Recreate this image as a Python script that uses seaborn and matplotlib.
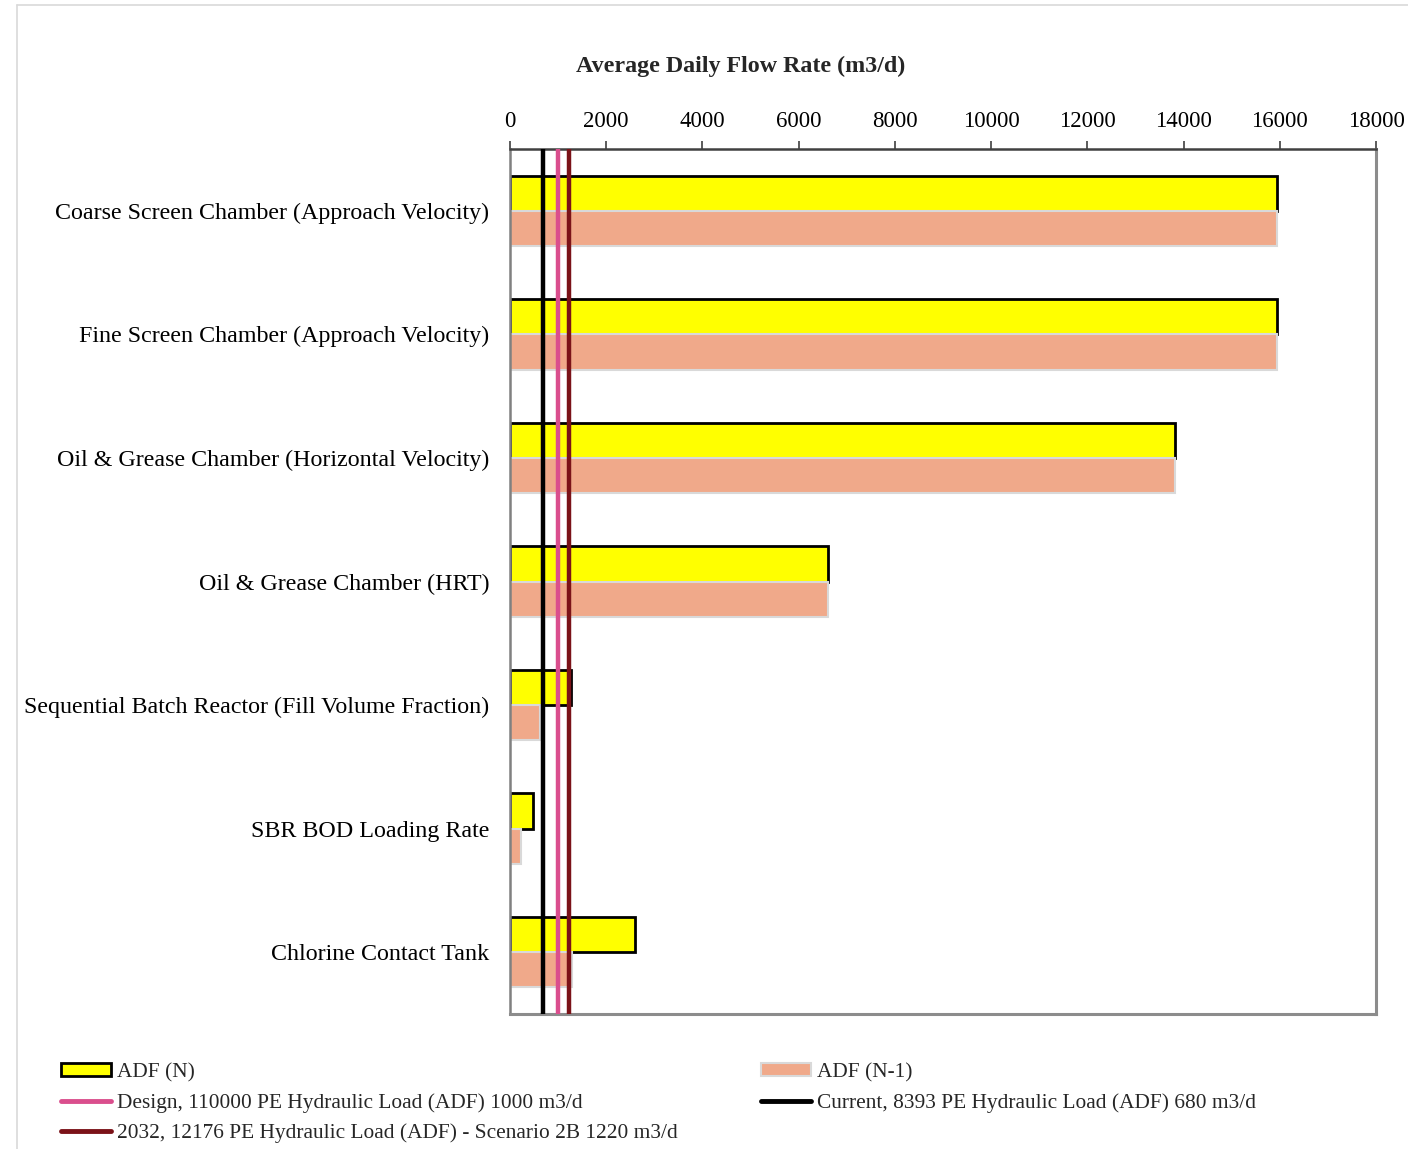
import matplotlib
matplotlib.use("Agg")
import matplotlib.pyplot as plt
from matplotlib.lines import Line2D
from matplotlib.patches import Patch
import seaborn as sns
import pandas as pd

# Process units and their average daily flow capacity (m3/d)
units = [
    "Coarse Screen Chamber (Approach Velocity)",
    "Fine Screen Chamber (Approach Velocity)",
    "Oil & Grease Chamber (Horizontal Velocity)",
    "Oil & Grease Chamber (HRT)",
    "Sequential Batch Reactor (Fill Volume Fraction)",
    "SBR BOD Loading Rate",
    "Chlorine Contact Tank",
]
adf_n = [15950, 15950, 13820, 6600, 1270, 470, 2590]
adf_n1 = [15950, 15950, 13820, 6600, 620, 220, 1280]

# Reference hydraulic loads (m3/d)
design_load = 1000
current_load = 680
future_load = 1220

series_names = ["ADF (N)", "ADF (N-1)"]
x_ticks = [0, 2000, 4000, 6000, 8000, 10000, 12000, 14000, 16000, 18000]

df = pd.DataFrame({
    "unit": units * 2,
    "flow": adf_n + adf_n1,
    "series": [series_names[0]] * len(units) + [series_names[1]] * len(units),
})

sns.set_theme(style="white")
plt.rcParams["font.family"] = ["Liberation Serif", "DejaVu Serif"]

fig = plt.figure(figsize=(14.08, 11.49), dpi=100)
ax = fig.add_axes([510 / 1408, 1 - 1014 / 1149, 866 / 1408, 865 / 1149])

yellow = "#FFFF00"
salmon = "#F0A98A"
sns.barplot(data=df, y="unit", x="flow", hue="series", orient="h",
            palette=[yellow, salmon], width=0.57, ax=ax, legend=False,
            saturation=1)

for patch in ax.containers[0]:
    patch.set_edgecolor("black")
    patch.set_linewidth(2.0)
for patch in ax.containers[1]:
    patch.set_edgecolor("#D9D9D9")
    patch.set_linewidth(1.5)

pink = "#DA4E8D"
darkred = "#7B1218"
ax.axvline(current_load, color="black", lw=3.2, zorder=5)
ax.axvline(design_load, color=pink, lw=3.2, zorder=5)
ax.axvline(future_load, color=darkred, lw=3.2, zorder=5)

ax.set_xlim(0, 18000)
ax.set_xticks(x_ticks)
ax.xaxis.tick_top()
ax.tick_params(axis="x", which="major", direction="out", length=6, width=1.2,
               color="#404040", labelsize=16.5, pad=6, top=True, bottom=False)
ax.tick_params(axis="y", length=0, labelsize=17.3, pad=15)
for lbl in ax.get_xticklabels() + ax.get_yticklabels():
    lbl.set_color("black")
ax.set_xlabel("")
ax.set_ylabel("")

ax.spines["top"].set_color("#404040")
ax.spines["top"].set_linewidth(1.8)
ax.spines["left"].set_color("#808080")
ax.spines["left"].set_linewidth(1.8)
for side in ("right", "bottom"):
    ax.spines[side].set_color("#8C8C8C")
    ax.spines[side].set_linewidth(2.2)

fig.text(741 / 1408, 1 - 66 / 1149, "Average Daily Flow Rate (m3/d)",
         ha="center", va="center", fontsize=17.3, fontweight="bold")

legend_kw = dict(loc="upper left", frameon=False, fontsize=15.4,
                 handlelength=2.35, handleheight=0.55, handletextpad=0.25,
                 labelspacing=0.5, borderpad=0, borderaxespad=0)

left_handles = [
    Patch(facecolor=yellow, edgecolor="black", linewidth=2),
    Line2D([0], [0], color=pink, lw=3.5),
    Line2D([0], [0], color=darkred, lw=3.5),
]
left_labels = [
    "ADF (N)",
    "Design, 110000 PE Hydraulic Load (ADF) 1000 m3/d",
    "2032, 12176 PE Hydraulic Load (ADF) - Scenario 2B 1220 m3/d",
]
right_handles = [
    Patch(facecolor=salmon, edgecolor="#D9D9D9", linewidth=1.5),
    Line2D([0], [0], color="black", lw=3.5),
]
right_labels = [
    "ADF (N-1)",
    "Current, 8393 PE Hydraulic Load (ADF) 680 m3/d",
]
leg1 = fig.legend(left_handles, left_labels,
                  bbox_to_anchor=(61 / 1408, 1 - 1063 / 1149), **legend_kw)
leg2 = fig.legend(right_handles, right_labels,
                  bbox_to_anchor=(761 / 1408, 1 - 1063 / 1149), **legend_kw)

# Outer chart frame
fig.add_artist(Line2D([17 / 1408, 17 / 1408], [0, 1 - 5 / 1149],
                      transform=fig.transFigure, color="#D9D9D9", lw=1.2))
fig.add_artist(Line2D([17 / 1408, 1], [1 - 5 / 1149, 1 - 5 / 1149],
                      transform=fig.transFigure, color="#D9D9D9", lw=1.2))

fig.savefig("out.png", dpi=100, facecolor="white")
